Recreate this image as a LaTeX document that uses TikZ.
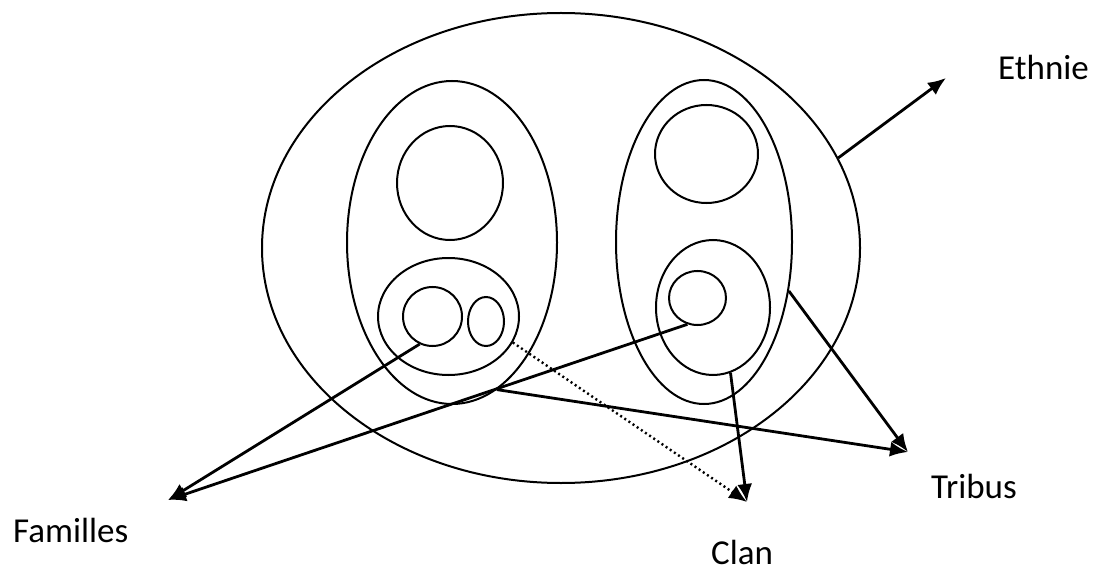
\documentclass[tikz,border=0pt]{standalone}
\usepackage{fontspec}
\setmainfont{Carlito}
\usetikzlibrary{arrows.meta,shapes.geometric}

\begin{document}
\begin{tikzpicture}[x=1pt, y=-1pt,
    grp/.style={draw, ellipse, line width=2pt, inner sep=0pt},
    arr/.style={-{Latex[length=18pt,width=15pt]}, line width=2.8pt},
    dots/.style={line width=2.4pt, dash pattern=on 2pt off 3pt},
    lbl/.style={anchor=base west, inner sep=0pt, font=\fontsize{35}{42}\selectfont}
]
\useasboundingbox (0,0) rectangle (1100,572);

% ethnie, tribus, clans, familles
\node[grp, minimum width=598pt, minimum height=470pt] (ethnie) at (561,248) {};
\node[grp, minimum width=210pt, minimum height=323pt] (tribuG) at (452,242.5) {};
\node[grp, minimum width=176pt, minimum height=324pt] (tribuD) at (704,242) {};
\node[grp, minimum width=106pt, minimum height=114pt] (clanG1) at (450,183) {};
\node[grp, minimum width=141pt, minimum height=117pt] (clanG2) at (448.5,316.5) {};
\node[grp, minimum width=103pt, minimum height=98pt] (clanD1) at (706.5,154) {};
\node[grp, minimum width=114pt, minimum height=135pt] (clanD2) at (713,307.5) {};
\node[grp, minimum width=59pt, minimum height=59pt] (famG1) at (432.5,316.5) {};
\node[grp, minimum width=36pt, minimum height=49pt] (famG2) at (486,321.5) {};
\node[grp, minimum width=57pt, minimum height=54pt] (famD) at (697.5,298) {};

\node[lbl] (ethnieTxt) at (998,80) {Ethnie};
\node[lbl] (famTxt) at (13,542) {Familles};
\node[lbl] (tribTxt) at (931,498) {Tribus};
\node[lbl] (clanTxt) at (711,564) {Clan};

\coordinate (ethnieTip) at (946,78);
\coordinate (famTip) at (168,500);
\coordinate (clanTip) at (747,502);
\coordinate (tribTip) at (908,452);

\draw[arr] (ethnie.18.6) -- (ethnieTip);
\draw[arr] (famG1.245) -- (famTip);
\draw[arr] (famD.249) -- (famTip);
\draw[arr] (clanD2.-75) -- (clanTip);
\draw[arr, dots] (clanG2.-22) -- (clanTip);
\draw[arr] (tribuD.-30) -- (tribTip);
\draw[arr] (tribuG.-73) -- (tribTip);
\end{tikzpicture}
\end{document}
